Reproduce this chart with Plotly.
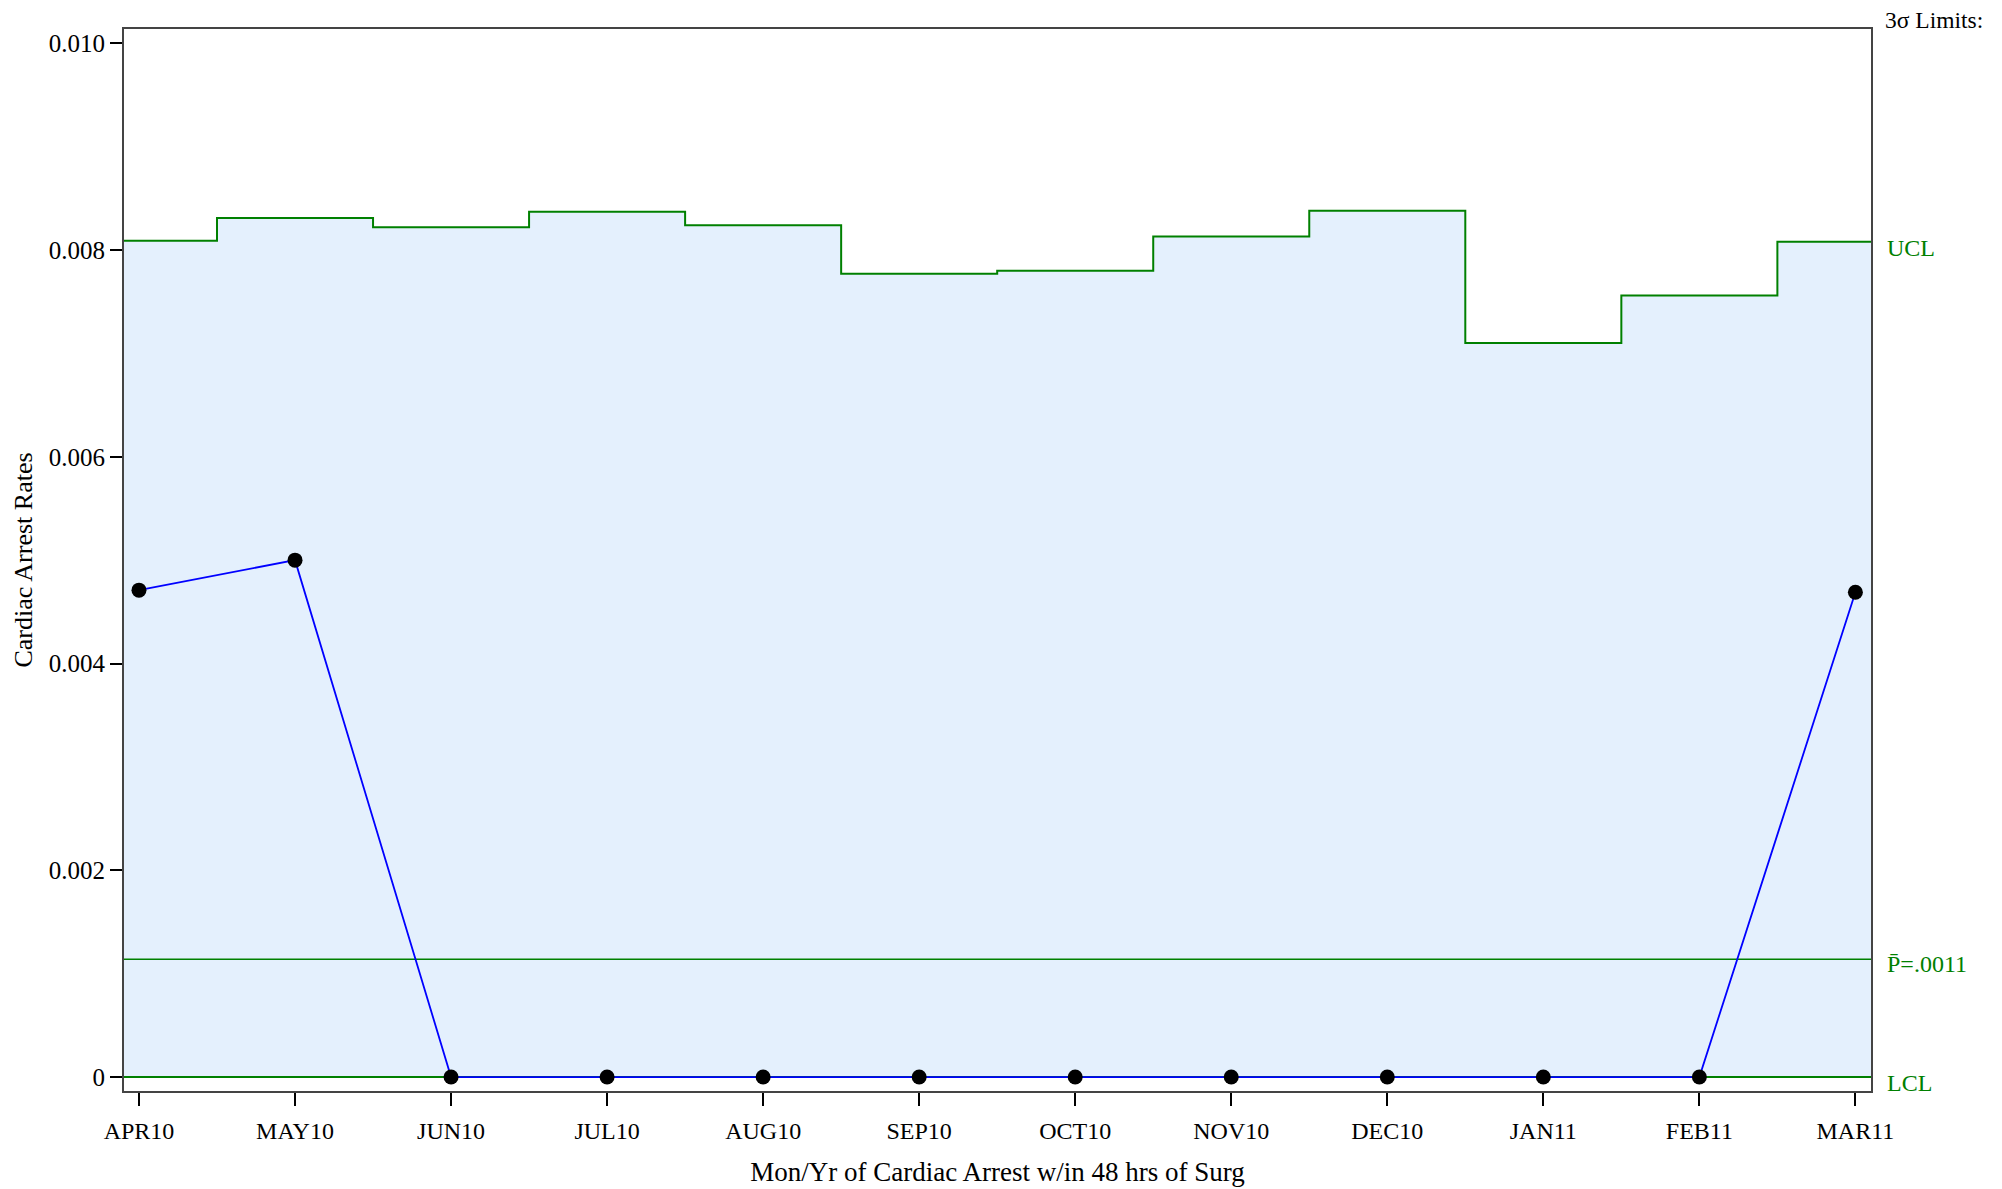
import plotly.graph_objects as go

months = ["APR10", "MAY10", "JUN10", "JUL10", "AUG10", "SEP10",
          "OCT10", "NOV10", "DEC10", "JAN11", "FEB11", "MAR11"]
rates = [0.00471, 0.00500, 0.0, 0.0, 0.0, 0.0, 0.0, 0.0, 0.0, 0.0, 0.0, 0.00469]
ucl = [0.00809, 0.00831, 0.00822, 0.00837, 0.00824, 0.00777,
       0.00780, 0.00813, 0.00838, 0.00710, 0.00756, 0.00808]
lcl_value = 0.0
pbar = 0.00114
pbar_label = "P\u0304=.0011"
y_ticks = [0, 0.002, 0.004, 0.006, 0.008, 0.010]
y_ticktext = ["0", "0.002", "0.004", "0.006", "0.008", "0.010"]

x_range = [-0.096, 11.1]
y_range = [-0.000135, 0.010138]

xi = list(range(len(months)))
# step edges: midpoints between subgroups, clipped to the axis range
edges = [x_range[0]] + [(a + b) / 2 for a, b in zip(xi[:-1], xi[1:])] + [x_range[1]]
step_x = edges
step_y = ucl + [ucl[-1]]

GREEN = "#008000"
FONT = "Liberation Serif, Times New Roman, serif"

fig = go.Figure()
# LCL base for fill
fig.add_trace(go.Scatter(x=[x_range[0], x_range[1]], y=[lcl_value, lcl_value],
                         mode="lines", line=dict(color=GREEN, width=2),
                         hoverinfo="skip", showlegend=False))
# UCL step with fill
fig.add_trace(go.Scatter(x=step_x, y=step_y, mode="lines", line_shape="hv",
                         line=dict(color=GREEN, width=2),
                         fill="tonexty", fillcolor="rgb(228,240,253)",
                         showlegend=False))
# center line
fig.add_trace(go.Scatter(x=[x_range[0], x_range[1]], y=[pbar, pbar], mode="lines",
                         line=dict(color=GREEN, width=1.5), showlegend=False))
# LCL line redrawn on top
fig.add_trace(go.Scatter(x=[x_range[0], x_range[1]], y=[lcl_value, lcl_value],
                         mode="lines", line=dict(color=GREEN, width=2),
                         showlegend=False))
# data
fig.add_trace(go.Scatter(x=xi, y=rates, mode="lines+markers",
                         line=dict(color="#0000FF", width=1.8),
                         marker=dict(color="black", size=15),
                         showlegend=False))

ann_font = dict(family=FONT, size=24, color=GREEN)
fig.add_annotation(x=1, xref="paper", y=ucl[-1], yref="y", text="UCL",
                   showarrow=False, xanchor="left", yanchor="middle",
                   xshift=14, yshift=-6, font=ann_font)
fig.add_annotation(x=1, xref="paper", y=pbar, yref="y", text=pbar_label,
                   showarrow=False, xanchor="left", yanchor="middle",
                   xshift=14, yshift=-5, font=ann_font)
fig.add_annotation(x=1, xref="paper", y=lcl_value, yref="y", text="LCL",
                   showarrow=False, xanchor="left", yanchor="middle",
                   xshift=14, yshift=-6, font=ann_font)
fig.add_annotation(x=1, xref="paper", y=1, yref="paper", text="3\u03c3 Limits:",
                   showarrow=False, xanchor="left", yanchor="middle",
                   xshift=12, yshift=9, font=dict(family=FONT, size=23.5, color="black"))

fig.update_layout(
    width=2002, height=1189,
    margin=dict(l=116, r=139, t=21, b=106),
    plot_bgcolor="white", paper_bgcolor="white",
    font=dict(family=FONT, size=24, color="black"),
    xaxis=dict(range=x_range, tickvals=xi, ticktext=months, ticks="outside",
               ticklen=13, tickwidth=1.5, tickcolor="black",
               tickfont=dict(size=24), ticklabelstandoff=4,
               showline=True, linecolor="#444444", linewidth=2, mirror=True,
               showgrid=False, zeroline=False,
               title=dict(text="Mon/Yr of Cardiac Arrest w/in 48 hrs of Surg",
                          font=dict(size=27), standoff=19)),
    yaxis=dict(range=y_range, tickvals=y_ticks, ticktext=y_ticktext, ticks="outside",
               ticklen=12, tickwidth=1.5, tickcolor="black",
               tickfont=dict(size=25),
               showline=True, linecolor="#444444", linewidth=2, mirror=True,
               showgrid=False, zeroline=False,
               title=dict(text="Cardiac Arrest Rates", font=dict(size=26), standoff=9)),
)

fig.write_html("out.html")
